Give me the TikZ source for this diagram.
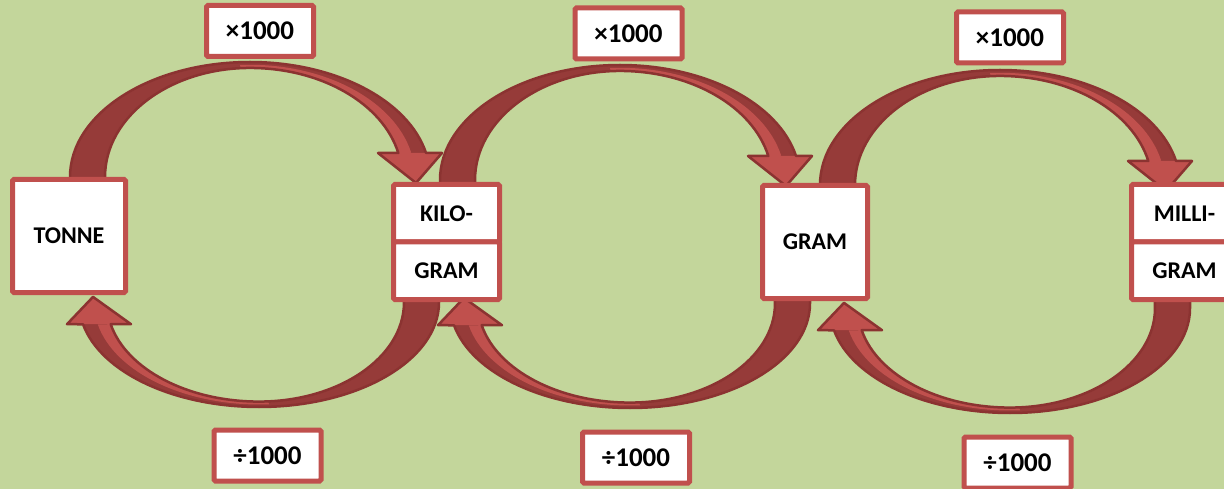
\documentclass[tikz,border=0pt]{standalone}
\usepackage{fontspec}
\setmainfont{Carlito}
\definecolor{bggreen}{HTML}{C3D69B}
\definecolor{boxred}{HTML}{C0504D}
\definecolor{arrdark}{HTML}{963B39}
\definecolor{arrlight}{HTML}{C0504D}
\definecolor{arrline}{HTML}{8B3331}
\newcommand{\CurvedArrow}[1]{%
  \begin{scope}[#1]
    \fill[arrdark] (-180,130) -- (-180,115) arc[start angle=180, end angle=347.9, x radius=180, y radius=115]
      -- (192,91) -- (166,121) -- (128,91) -- (148.3,91)
      arc[start angle=347.3, end angle=270, x radius=152, y radius=109]
      arc[start angle=270, end angle=180, x radius=145, y radius=109] -- (-145,130) -- cycle;
    \fill[arrlight] (-10,3) arc[start angle=266.5, end angle=347.6, x radius=165, y radius=112]
      -- (148.3,91) arc[start angle=347.3, end angle=266.5, x radius=152, y radius=109] -- cycle;
    \fill[arrlight] (128,91) -- (192,91) -- (166,121) -- cycle;
    \draw[arrline, line width=2.5pt, line join=round] (-180,130) -- (-180,115) arc[start angle=180, end angle=347.9, x radius=180, y radius=115]
      -- (192,91) -- (166,121) -- (128,91) -- (148.3,91)
      arc[start angle=347.3, end angle=270, x radius=152, y radius=109]
      arc[start angle=270, end angle=180, x radius=145, y radius=109] -- (-145,130) -- cycle;
  \end{scope}}
\begin{document}
\begin{tikzpicture}[x=1pt,y=-1pt,
  unitbox/.style={draw=boxred, fill=white, line width=5pt, rounded corners=1.5pt, inner sep=0pt},
  lbl/.style={font=\fontsize{27}{31}\selectfont\bfseries},
  unitlbl/.style={font=\fontsize{24}{28}\selectfont\bfseries}]
\useasboundingbox (0,0) rectangle (1224,489);
\clip (0,0) rectangle (1224,489);
\fill[bggreen] (0,0) rectangle (1224,489);

% top arrows (x1000)
\CurvedArrow{shift={(250,62)}}
\CurvedArrow{shift={(620,65)}}
\CurvedArrow{shift={(1000,70)}}
% bottom arrows (divide 1000)
\CurvedArrow{shift={(259,407)}, rotate=180, yscale=0.91}
\CurvedArrow{shift={(630,408)}, rotate=180, yscale=0.91}
\CurvedArrow{shift={(1010,413)}, rotate=180, yscale=0.91}

% unit boxes
\node[unitbox, minimum width=113pt, minimum height=113pt, unitlbl] (tonne) at (69,236) {TONNE};

\node[unitbox, minimum width=106pt, minimum height=57.5pt, unitlbl] (kilo) at (446.5,213.25) {KILO-};
\node[unitbox, minimum width=106pt, minimum height=57.5pt, unitlbl] (kgram) at (446.5,270.75) {GRAM};

\node[unitbox, minimum width=105pt, minimum height=113pt, unitlbl] (gram) at (815,242) {GRAM};

\node[unitbox, minimum width=106pt, minimum height=57.5pt, unitlbl] (milli) at (1184.5,213.25) {MILLI-};
\node[unitbox, minimum width=106pt, minimum height=57.5pt, unitlbl] (mgram) at (1184.5,270.75) {GRAM};

% factor labels
\node[unitbox, minimum width=107pt, minimum height=51pt, lbl] (m1) at (260,31) {×1000};
\node[unitbox, minimum width=107pt, minimum height=51pt, lbl] (m2) at (628.5,33.5) {×1000};
\node[unitbox, minimum width=107pt, minimum height=51pt, lbl] (m3) at (1010,37.5) {×1000};
\node[unitbox, minimum width=107pt, minimum height=51pt, lbl] (d1) at (267.5,455.5) {÷1000};
\node[unitbox, minimum width=107pt, minimum height=51pt, lbl] (d2) at (636,457.5) {÷1000};
\node[unitbox, minimum width=107pt, minimum height=51pt, lbl] (d3) at (1017.5,462.5) {÷1000};
\end{tikzpicture}
\end{document}
